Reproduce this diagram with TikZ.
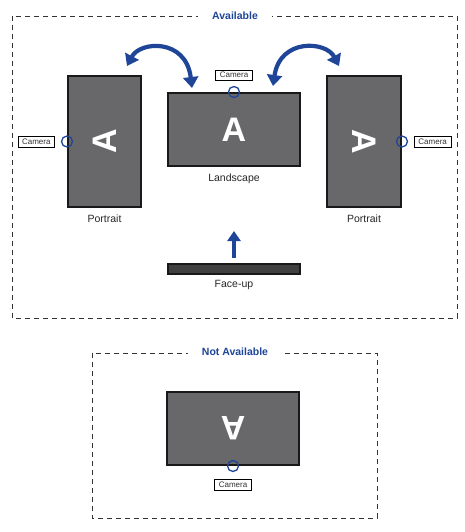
\documentclass[tikz,border=0pt]{standalone}
\usepackage{fontspec}
\setmainfont{Liberation Sans}
\usetikzlibrary{arrows.meta,positioning}
\definecolor{screengray}{HTML}{68686B}
\definecolor{navy}{HTML}{1E4597}
\tikzset{
  screen/.style={draw=black!90,line width=2pt,fill=screengray,inner sep=0pt},
  cam/.style={draw=navy,line width=1.3pt,circle,minimum size=11pt,inner sep=0pt},
  camlabel/.style={draw=black,line width=0.6pt,fill=white,text=black!80,
    font=\fontsize{8}{9}\selectfont,inner xsep=4pt,inner ysep=2.5pt},
  bigA/.style={text=white,font=\fontsize{34}{34}\selectfont\bfseries,inner sep=0pt},
  frame/.style={draw=black!80,line width=0.8pt,dash pattern=on 5pt off 4pt},
  title/.style={fill=white,text=navy,font=\fontsize{10.5}{12}\selectfont\bfseries,
    inner xsep=14pt},
  caption/.style={text=black!85,font=\fontsize{10.5}{12}\selectfont},
  swing/.style={draw=navy,line width=4.2pt,
    {Triangle[length=11pt,width=15pt]}-{Triangle[length=11pt,width=15pt]}},
  lift/.style={draw=navy,line width=3.8pt,-{Triangle[length=10pt,width=13pt]}}
}
\begin{document}
\begin{tikzpicture}[x=1pt,y=-1pt]
\useasboundingbox (0,0) rectangle (465,532);

\draw[frame] (12,16) rectangle (457,318);
\node[title] (avail) at (235,16) {Available};

\node[screen,minimum width=73pt,minimum height=131pt] (pl) at (104.5,141.5) {};
\node[screen,minimum width=132pt,minimum height=73pt] (ls) at (234,129.5) {};
\node[screen,minimum width=74pt,minimum height=131pt] (pr) at (364,141.5) {};
\node[screen,fill=black!75,minimum width=132pt,minimum height=10pt] (fu) at (234,269) {};

\node[bigA,rotate=90] (apl) at (pl) {A};
\node[bigA] (als) at (ls) {A};
\node[bigA,rotate=-90] (apr) at (pr) {A};

\node[cam] (campl) at (pl.west) {};
\node[cam] (camls) at (ls.north) {};
\node[cam] (campr) at (pr.east) {};
\node[camlabel,left=6pt of campl] {Camera};
\node[camlabel,above=5pt of camls] {Camera};
\node[camlabel,right=6pt of campr] {Camera};

\node[caption,below=3pt of pl] {Portrait};
\node[caption,below=3pt of ls] {Landscape};
\node[caption,below=3pt of pr] {Portrait};
\node[caption,below=2pt of fu] {Face-up};

\coordinate (sl1) at (127,66);
\coordinate (sl2) at (192,88);
\coordinate (sr1) at (273,86);
\coordinate (sr2) at (339,66);
\draw[swing] (sl1) .. controls (140,41) and (186,38) .. (sl2);
\draw[swing] (sr1) .. controls (280,38) and (326,41) .. (sr2);

\coordinate (tipU) at (234,231);
\draw[lift] ([yshift=5pt]fu.north) -- (tipU);

\draw[frame] (92,353) rectangle (377,518);
\node[title] (navail) at (235,352) {Not Available};
\node[screen,minimum width=132pt,minimum height=73pt] (dn) at (233,428.5) {};
\node[bigA,rotate=180] (adn) at (dn) {A};
\node[cam] (camdn) at (dn.south) {};
\node[camlabel,below=7pt of camdn] {Camera};
\end{tikzpicture}
\end{document}
